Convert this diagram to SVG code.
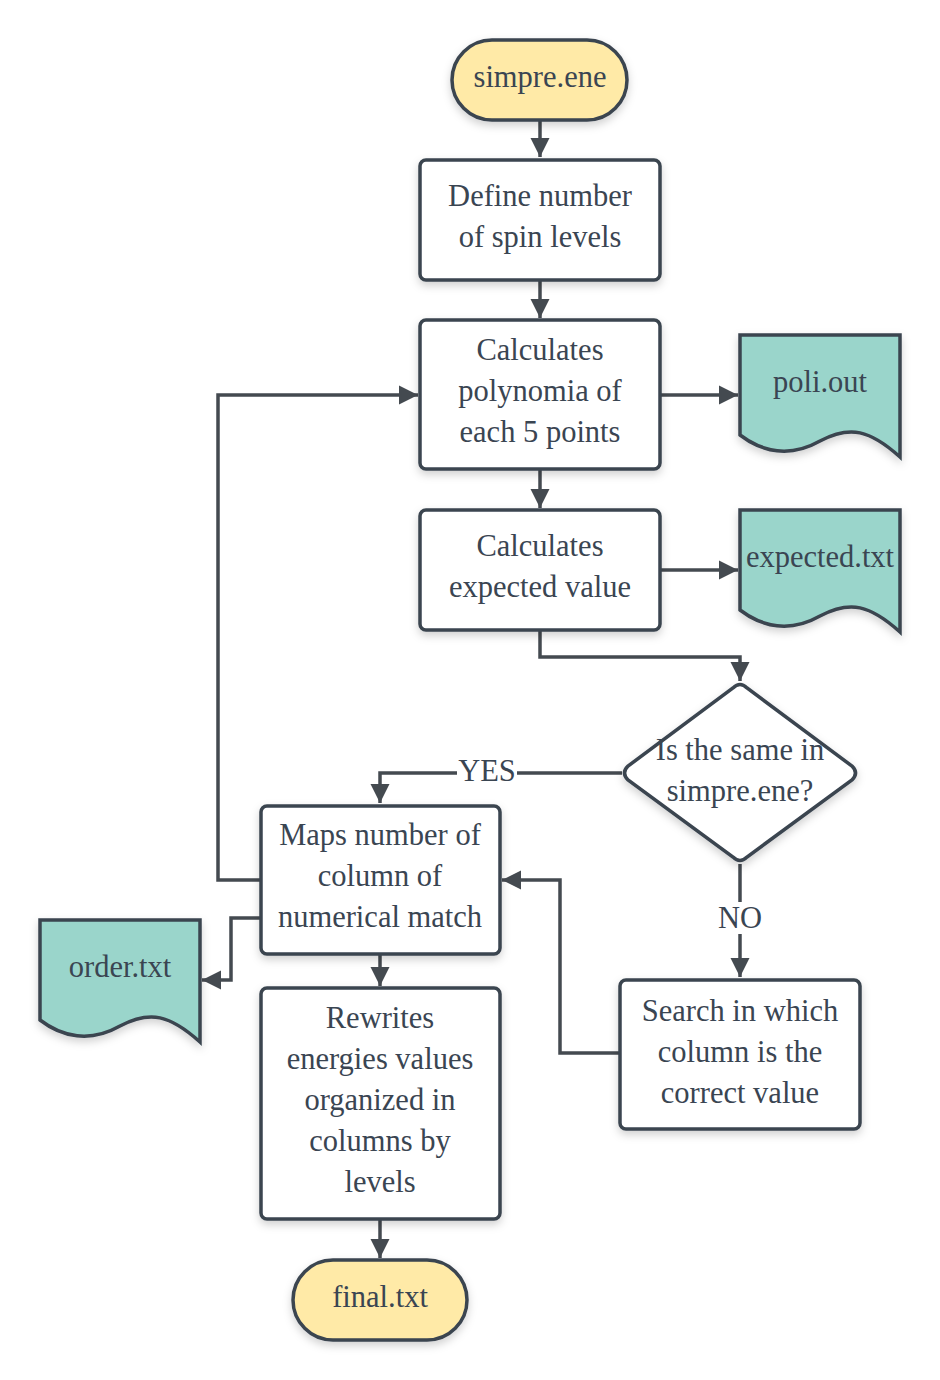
<svg xmlns="http://www.w3.org/2000/svg" width="940" height="1380" viewBox="0 0 940 1380">
<style>
.box{fill:#ffffff;stroke:#3a4450;stroke-width:3.5;filter:url(#sh)}
.term{fill:#ffeaa7;stroke:#3a4450;stroke-width:3.5;filter:url(#sh)}
.doc{fill:#9ad5cb;stroke:#3a4450;stroke-width:3.5;filter:url(#sh)}
.t{font-family:"Liberation Serif","Times New Roman",serif;font-size:30.5px;fill:#3a4552;text-anchor:middle}
.c{fill:none;stroke:#444a50;stroke-width:3.5}
.lbl{font-family:"Liberation Serif","Times New Roman",serif;font-size:30.5px;fill:#3a4552;text-anchor:middle}
</style>
<defs>
<filter id="sh" x="-20%" y="-20%" width="140%" height="150%">
<feDropShadow dx="0" dy="4" stdDeviation="4" flood-color="#000" flood-opacity="0.18"/>
</filter>
<marker id="ar" viewBox="0 0 10 10" refX="10" refY="5" markerWidth="5.5" markerHeight="5.5" orient="auto" markerUnits="strokeWidth">
<path d="M0,0 L10,5 L0,10 Z" fill="#444a50"/>
</marker>
</defs>
<g id="connectors">
<path class="c" d="M540,121 V157" marker-end="url(#ar)"/>
<path class="c" d="M540,281 V318" marker-end="url(#ar)"/>
<path class="c" d="M661,395 H738" marker-end="url(#ar)"/>
<path class="c" d="M540,470 V508" marker-end="url(#ar)"/>
<path class="c" d="M661,570 H738" marker-end="url(#ar)"/>
<path class="c" d="M540,631 V657 H740 V681" marker-end="url(#ar)"/>
<path class="c" d="M622,773 H380 V803" marker-end="url(#ar)"/>
<path class="c" d="M740,864 V977" marker-end="url(#ar)"/>
<path class="c" d="M619,1053 H560 V880 H502" marker-end="url(#ar)"/>
<path class="c" d="M260,880 H218 V395 H418" marker-end="url(#ar)"/>
<path class="c" d="M260,918 H231 V980 H202" marker-end="url(#ar)"/>
<path class="c" d="M380,955 V986" marker-end="url(#ar)"/>
<path class="c" d="M380,1220 V1258" marker-end="url(#ar)"/>
<rect x="457" y="756" width="60" height="30" fill="#ffffff"/>
<text class="lbl" x="487" y="781">YES</text>
<rect x="714" y="902" width="52" height="32" fill="#ffffff"/>
<text class="lbl" x="740" y="928">NO</text>
</g>
<g id="n-simpre">
<rect class="term" x="452" y="40" width="175" height="80" rx="40"/>
<text class="t" x="540" y="87">simpre.ene</text>
</g>
<g id="n-define">
<rect class="box" x="420" y="160" width="240" height="120" rx="6"/>
<text class="t" x="540" y="206">Define number</text>
<text class="t" x="540" y="247">of spin levels</text>
</g>
<g id="n-poly">
<rect class="box" x="420" y="320" width="240" height="149" rx="6"/>
<text class="t" x="540" y="360">Calculates</text>
<text class="t" x="540" y="401">polynomia of</text>
<text class="t" x="540" y="442">each 5 points</text>
</g>
<g id="n-poli">
<path class="doc" d="M740,335 H900 V457 C870,430 850,425 820,441 C790,458 762,452 740,435 Z"/>
<text class="t" x="820" y="392">poli.out</text>
</g>
<g id="n-expected">
<rect class="box" x="420" y="510" width="240" height="120" rx="6"/>
<text class="t" x="540" y="556">Calculates</text>
<text class="t" x="540" y="597">expected value</text>
</g>
<g id="n-expectedtxt">
<path class="doc" d="M740,510 H900 V632 C870,605 850,600 820,616 C790,633 762,627 740,610 Z"/>
<text class="t" x="820" y="567">expected.txt</text>
</g>
<g id="n-decision">
<path class="box" d="M733,688 Q740,681 747,688 L852,766 Q859,773 852,780 L747,857 Q740,864 733,857 L628,780 Q621,773 628,766 Z"/>
<text class="t" x="740" y="760">Is the same in</text>
<text class="t" x="740" y="801">simpre.ene?</text>
</g>
<g id="n-maps">
<rect class="box" x="261" y="806" width="239" height="148" rx="6"/>
<text class="t" x="380" y="845">Maps number of</text>
<text class="t" x="380" y="886">column of</text>
<text class="t" x="380" y="927">numerical match</text>
</g>
<g id="n-order">
<path class="doc" d="M40,920 H200 V1042 C170,1015 150,1010 120,1026 C90,1043 62,1037 40,1020 Z"/>
<text class="t" x="120" y="977">order.txt</text>
</g>
<g id="n-search">
<rect class="box" x="620" y="980" width="240" height="149" rx="6"/>
<text class="t" x="740" y="1021">Search in which</text>
<text class="t" x="740" y="1062">column is the</text>
<text class="t" x="740" y="1103">correct value</text>
</g>
<g id="n-rewrites">
<rect class="box" x="261" y="988" width="239" height="231" rx="6"/>
<text class="t" x="380" y="1028">Rewrites</text>
<text class="t" x="380" y="1069">energies values</text>
<text class="t" x="380" y="1110">organized in</text>
<text class="t" x="380" y="1151">columns by</text>
<text class="t" x="380" y="1192">levels</text>
</g>
<g id="n-final">
<rect class="term" x="293" y="1260" width="174" height="80" rx="40"/>
<text class="t" x="380" y="1307">final.txt</text>
</g>
</svg>
